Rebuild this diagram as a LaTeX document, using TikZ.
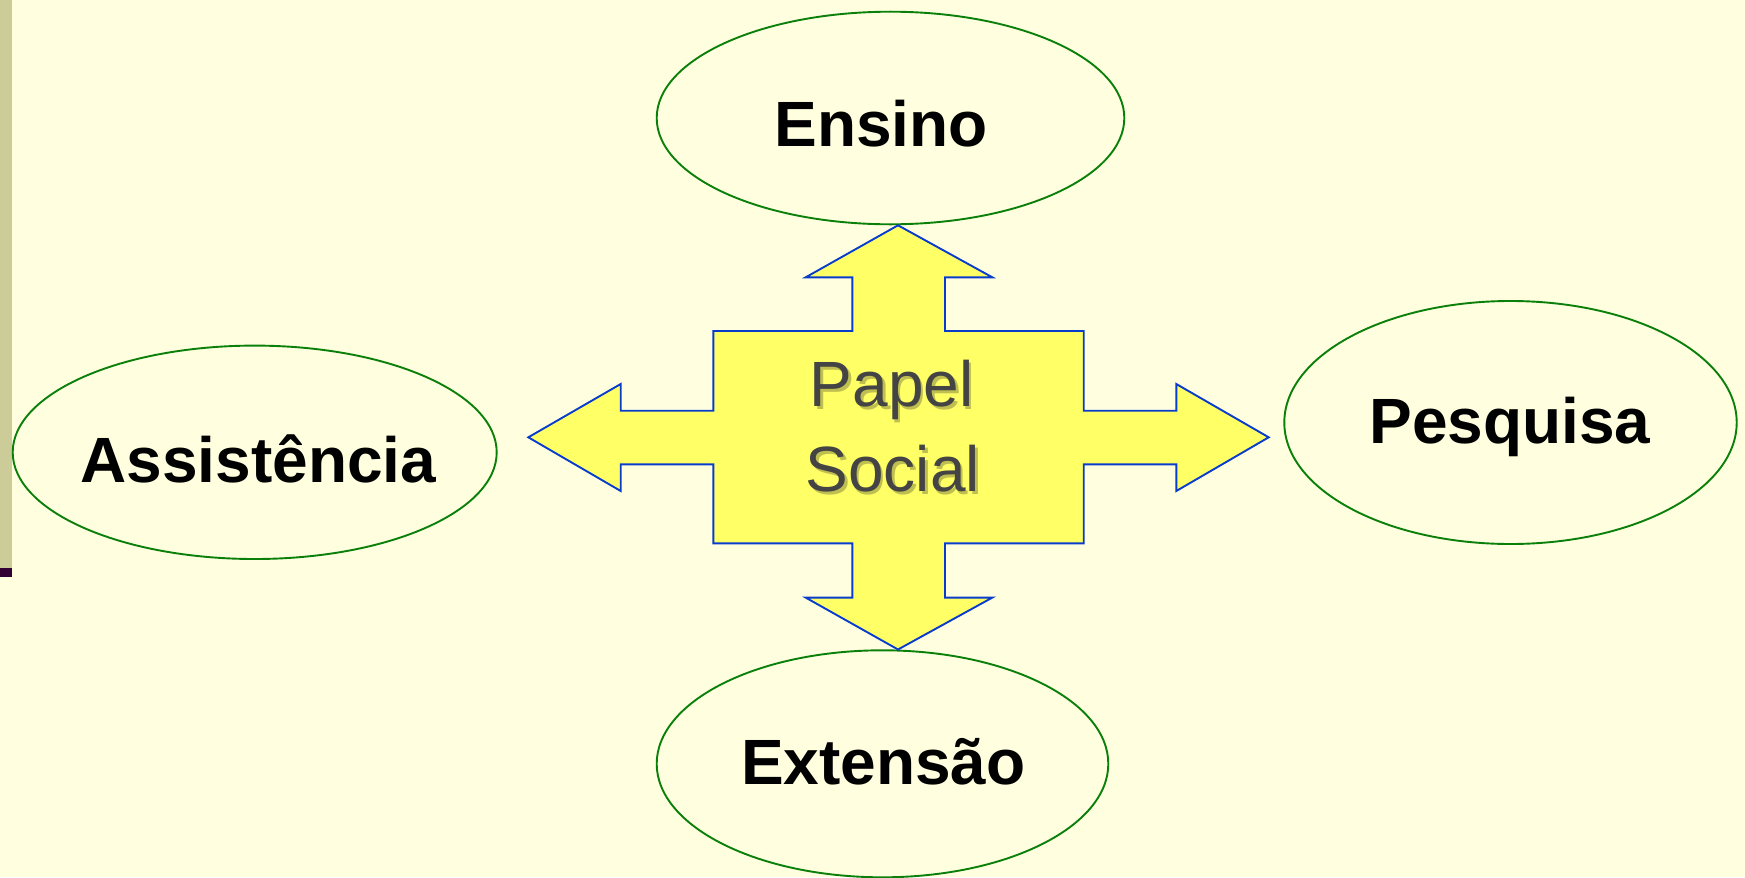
\documentclass[tikz,border=0pt]{standalone}
\usepackage{fontspec}
\setmainfont{Liberation Sans}
\usetikzlibrary{shapes.geometric}
\definecolor{bgc}{HTML}{FFFFE0}
\definecolor{barc}{HTML}{CCCC99}
\definecolor{darkc}{HTML}{330033}
\definecolor{ellc}{HTML}{0A7F0A}
\definecolor{arrfill}{HTML}{FFFF66}
\definecolor{arrdraw}{HTML}{0A3CCC}
\definecolor{graytext}{HTML}{444444}
\definecolor{shadowc}{HTML}{8C8C40}
\tikzset{
  oval/.style={draw=ellc, line width=1.9bp, ellipse, inner sep=0pt},
  ovallabel/.style={anchor=base, inner sep=0pt, font=\fontsize{64bp}{70bp}\selectfont\bfseries, text=black},
  centerlabel/.style={anchor=base, inner sep=0pt, font=\fontsize{64bp}{70bp}\selectfont, text=graytext},
  centershadow/.style={anchor=base, inner sep=0pt, font=\fontsize{64bp}{70bp}\selectfont, text=shadowc, opacity=0.55},
  crossarrow/.style={fill=arrfill, draw=arrdraw, line width=1.9bp, line join=miter}
}
\begin{document}
\begin{tikzpicture}[x=1bp, y=-1bp]
\fill[bgc] (0,0) rectangle (1745,877);
\useasboundingbox (0,0) rectangle (1745,877);
% left bar
\fill[barc] (0,0) rectangle (12,568);
\fill[darkc] (0,568) rectangle (12,577);
% ellipses
\node[oval, minimum width=467.6bp, minimum height=212.6bp] (ensino) at (890.5,118) {};
\node[oval, minimum width=484bp, minimum height=213.4bp] (assist) at (254.7,452.3) {};
\node[oval, minimum width=452.4bp, minimum height=243bp] (pesq) at (1510.5,422.5) {};
\node[oval, minimum width=451.6bp, minimum height=227bp] (ext) at (882.5,763.8) {};
% labels
\node[ovallabel] (tensino) at (881,146) {Ensino};
\node[ovallabel] (tassist) at (258.3,482) {Assistência};
\node[ovallabel] (tpesq) at (1510,443.5) {Pesquisa};
\node[ovallabel] (text) at (883.3,784) {Extensão};
% cross arrow
\draw[crossarrow]
  (898,225.3) -- (992.3,277.3) -- (945,277.3) -- (945,331) -- (1083.7,331)
  -- (1083.7,410.7) -- (1176.3,410.7) -- (1176.3,384) -- (1268.7,437.3)
  -- (1176.3,491) -- (1176.3,464.3) -- (1083.7,464.3) -- (1083.7,543.3)
  -- (945,543.3) -- (945,597.6) -- (992.3,597.6) -- (898,649.5)
  -- (805.7,597.6) -- (852.3,597.6) -- (852.3,543.3) -- (713.3,543.3)
  -- (713.3,464.3) -- (620.7,464.3) -- (620.7,491) -- (528.3,437.3)
  -- (620.7,384) -- (620.7,410.7) -- (713.3,410.7) -- (713.3,331)
  -- (852.3,331) -- (852.3,277.3) -- (805.7,277.3) -- cycle;
% center text with shadow
\node[centershadow] (shpapel) at (894.2,409.2) {Papel};
\node[centershadow] (shsocial) at (895.2,494.2) {Social};
\node[centerlabel] (papel) at (891.7,406.7) {Papel};
\node[centerlabel] (social) at (892.7,491.7) {Social};
\end{tikzpicture}
\end{document}
